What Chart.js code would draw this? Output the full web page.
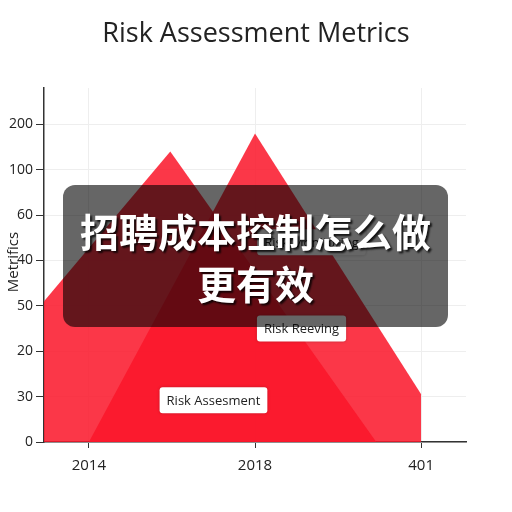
<!DOCTYPE html>
<html>
<head>
<meta charset="utf-8">
<script src="https://cdn.jsdelivr.net/npm/chart.js@4.4.0/dist/chart.umd.min.js"></script>
<style>
  html, body { margin: 0; padding: 0; background: #fff; }
  #wrap { position: relative; width: 512px; height: 512px; }
  #title {
    position: absolute; left: 0; top: 12px; width: 512px; text-align: center;
    font-family: "Open Sans", sans-serif; font-size: 27px; color: #222; line-height: 40px;
  }
  #ytitle {
    position: absolute; left: 12px; top: 262px; transform: translate(-50%, -50%) rotate(-90deg);
    font-family: "Open Sans", sans-serif; font-size: 15px; color: #222; white-space: nowrap;
  }
  #overlay {
    position: absolute; left: 63px; top: 185px; width: 385px; height: 142px;
    background: rgba(0, 0, 0, 0.6); border-radius: 12px;
    color: #fff; font-family: "Noto Sans CJK SC", sans-serif; font-weight: bold;
    font-size: 39px; line-height: 52px; text-align: center;
    display: flex; flex-direction: column; justify-content: center;
    text-shadow: 2px 2px 2px rgba(0,0,0,0.8);
  }
</style>
</head>
<body>
<div id="wrap">
  <canvas id="myChart" width="512" height="512"></canvas>
  <div id="title">Risk Assessment Metrics</div>
  <div id="ytitle">Metrifics</div>
  <div id="overlay"><div>招聘成本控制怎么做</div><div>更有效</div></div>
</div>
<script>
// tick labels (as printed on the chart)
const xTickLabels = ['2014', '2018', '401'];
const yTickLabels = ['0', '30', '20', '50', '40', '60', '100', '200'];

// series (x in tick steps, y in tick steps)
const seriesAX = [-0.27, 0.49, 1.73];
const seriesAY = [3.1, 6.4, 0];
const seriesBX = [0, 1, 2, 2];
const seriesBY = [0, 6.8, 1.05, 0];

// label boxes
const noteTexts = ['Risk Assesment', 'Risk Reeving', 'Risk Monitoring'];
const noteX = [0.75, 1.28, 1.34];
const noteY = [0.92, 2.5, 4.4];

const toPoints = (xs, ys) => xs.map((x, i) => ({x: x, y: ys[i]}));

const notesPlugin = {
  id: 'notes',
  afterDatasetsDraw(chart) {
    const ctx = chart.ctx;
    const xs = chart.scales.x, ys = chart.scales.y;
    ctx.save();
    ctx.font = '13px "Open Sans", sans-serif';
    noteTexts.forEach((t, i) => {
      const cx = xs.getPixelForValue(noteX[i]);
      const cy = ys.getPixelForValue(noteY[i]);
      const w = ctx.measureText(t).width + 14, h = 26;
      ctx.shadowColor = 'rgba(0,0,0,0.25)';
      ctx.shadowBlur = 3;
      ctx.fillStyle = '#fff';
      ctx.beginPath();
      ctx.roundRect(cx - w / 2, cy - h / 2, w, h, 3);
      ctx.fill();
      ctx.shadowColor = 'transparent';
      ctx.fillStyle = '#222';
      ctx.textAlign = 'center';
      ctx.textBaseline = 'middle';
      ctx.fillText(t, cx, cy + 1);
    });
    ctx.restore();
  }
};

const data = {
  datasets: [
    {
      label: 'Risk A',
      data: toPoints(seriesAX, seriesAY),
      borderWidth: 0,
      pointRadius: 0,
      fill: 'origin',
      backgroundColor: 'rgba(250, 22, 42, 0.86)'
    },
    {
      label: 'Risk B',
      data: toPoints(seriesBX, seriesBY),
      borderWidth: 0,
      pointRadius: 0,
      fill: 'origin',
      backgroundColor: 'rgba(250, 22, 42, 0.86)'
    }
  ]
};

const config = {
  type: 'line',
  data: data,
  plugins: [notesPlugin],
  options: {
    responsive: false,
    animation: false,
    layout: { padding: { left: 6, right: 46, top: 88, bottom: 28 } },
    scales: {
      x: {
        type: 'linear',
        min: -0.27,
        max: 2.27,
        afterBuildTicks: axis => { axis.ticks = [0, 1, 2].map(v => ({value: v})); },
        ticks: {
          callback: v => xTickLabels[v],
          color: '#222',
          font: { size: 15, family: 'Open Sans' },
          padding: 9,
          maxRotation: 0
        },
        grid: { color: '#eee', tickColor: '#333', tickLength: 6 },
        border: { color: '#333', width: 1.5 }
      },
      y: {
        min: 0,
        max: 7.8,
        afterBuildTicks: axis => { axis.ticks = yTickLabels.map((_, i) => ({value: i})); },
        ticks: {
          callback: v => yTickLabels[v],
          color: '#222',
          font: { size: 14, family: 'Open Sans' },
          padding: 3
        },
        grid: { color: '#eee', tickColor: '#333', tickLength: 8 },
        border: { color: '#333', width: 1.5 }
      }
    },
    plugins: {
      legend: { display: false },
      tooltip: { enabled: false },
      title: { display: false }
    }
  }
};

let myChart = new Chart(document.getElementById('myChart'), config);
</script>
</body>
</html>
